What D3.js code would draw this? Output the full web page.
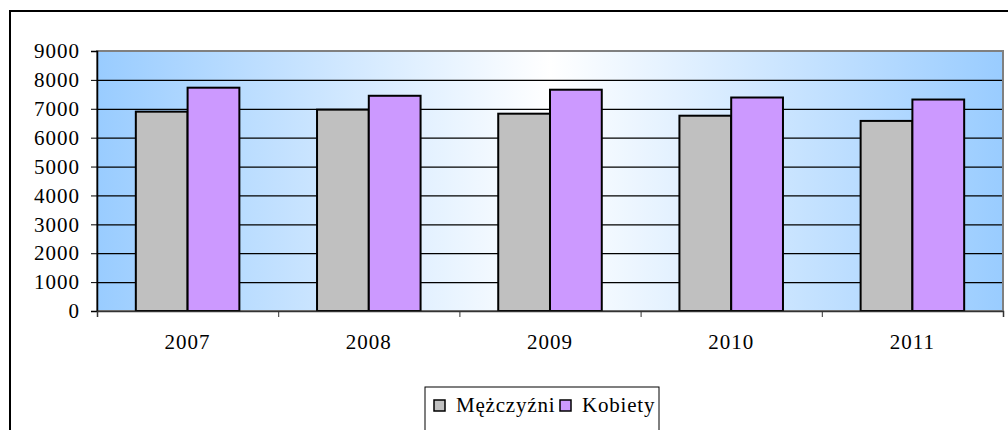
<!DOCTYPE html>
<html lang="pl">

<head>
  <meta charset="UTF-8" />
  <title>d3</title>
  <script src="https://cdn.jsdelivr.net/npm/d3@7/dist/d3.min.js"></script>
  <style>
    body { margin: 0; background: #fff; }
    svg { display: block; }
  </style>
</head>

<body>
  <svg id="svg"></svg>
</body>

<script>
  const years = ["2007", "2008", "2009", "2010", "2011"];
  const seriesNames = ["Mężczyźni", "Kobiety"];
  const men = [6900, 6970, 6830, 6760, 6580];
  const women = [7730, 7450, 7660, 7390, 7320];
  const yTicks = [0, 1000, 2000, 3000, 4000, 5000, 6000, 7000, 8000, 9000];

  const colors = { "Mężczyźni": "#c0c0c0", "Kobiety": "#cc99ff" };
  const font = "'Liberation Serif', 'Times New Roman', serif";

  const width = 1008;
  const height = 430;
  const plot = { left: 97, right: 1003, top: 51, bottom: 311 };

  const svg = d3.select("#svg").attr("width", width).attr("height", height);

  // outer chart frame (runs off the right/bottom edge)
  svg.append("rect")
    .attr("x", 10).attr("y", 11)
    .attr("width", 1010).attr("height", 440)
    .attr("fill", "#fff")
    .attr("stroke", "#000")
    .attr("stroke-width", 2);

  const grad = svg.append("defs").append("linearGradient")
    .attr("id", "bg").attr("x1", "0").attr("x2", "1").attr("y1", "0").attr("y2", "0");
  grad.append("stop").attr("offset", "0").attr("stop-color", "#99ccff");
  grad.append("stop").attr("offset", "0.5").attr("stop-color", "#ffffff");
  grad.append("stop").attr("offset", "1").attr("stop-color", "#99ccff");

  const x0 = d3.scaleBand().domain(years).range([plot.left, plot.right]);
  const x1 = d3.scaleBand().domain(seriesNames).range([0, x0.bandwidth()]).paddingOuter(0.75);
  const y = d3.scaleLinear().domain([0, 9000]).range([plot.bottom, plot.top]);

  svg.append("rect")
    .attr("x", plot.left).attr("y", plot.top)
    .attr("width", plot.right - plot.left).attr("height", plot.bottom - plot.top)
    .attr("fill", "url(#bg)");

  // gridlines
  const grid = svg.append("g")
    .attr("transform", `translate(${plot.left},0)`)
    .call(d3.axisLeft(y).tickValues(yTicks).tickSize(-(plot.right - plot.left)).tickFormat(""));
  grid.selectAll(".domain").remove();
  grid.selectAll("line").attr("stroke", "#000").attr("stroke-width", 1.2);

  // plot border
  svg.append("rect")
    .attr("x", plot.left).attr("y", plot.top)
    .attr("width", plot.right - plot.left).attr("height", plot.bottom - plot.top)
    .attr("fill", "none")
    .attr("stroke", "#808080")
    .attr("stroke-width", 2);

  const data = years.map((yr, i) => ({ year: yr, values: [
    { key: "Mężczyźni", value: men[i] },
    { key: "Kobiety", value: women[i] }
  ] }));

  svg.append("g")
    .selectAll("g")
    .data(data)
    .join("g")
    .attr("transform", d => `translate(${x0(d.year)},0)`)
    .selectAll("rect")
    .data(d => d.values)
    .join("rect")
    .attr("x", d => x1(d.key))
    .attr("y", d => y(d.value))
    .attr("width", x1.bandwidth())
    .attr("height", d => y(0) - y(d.value))
    .attr("fill", d => colors[d.key])
    .attr("stroke", "#000")
    .attr("stroke-width", 2);

  // y axis
  const yAxisGroup = svg.append("g")
    .attr("transform", `translate(${plot.left},0)`)
    .call(d3.axisLeft(y).tickValues(yTicks).tickFormat(d3.format("d")).tickSize(6).tickPadding(11));
  yAxisGroup.select(".domain").attr("stroke", "#000").attr("stroke-width", 1.5);
  yAxisGroup.selectAll("line").attr("stroke", "#000");
  yAxisGroup.selectAll("text")
    .attr("font-family", font)
    .attr("font-size", 21)
    .attr("letter-spacing", "1px")
    .attr("fill", "#000");

  // x axis: ticks at category boundaries
  const xb = d3.scaleLinear().domain([0, years.length]).range([plot.left, plot.right]);
  const xTickGroup = svg.append("g")
    .attr("transform", `translate(0,${plot.bottom})`)
    .call(d3.axisBottom(xb).tickValues(d3.range(years.length + 1)).tickSize(6).tickFormat(""));
  xTickGroup.select(".domain").attr("stroke", "#333").attr("stroke-width", 1.5);
  xTickGroup.selectAll("line").attr("stroke", "#333");

  const xAxisGroup = svg.append("g")
    .attr("transform", `translate(0,${plot.bottom})`)
    .call(d3.axisBottom(x0).tickSize(0).tickPadding(23));
  xAxisGroup.select(".domain").remove();
  xAxisGroup.selectAll("text")
    .attr("font-family", font)
    .attr("font-size", 21)
    .attr("letter-spacing", "1px")
    .attr("fill", "#000");

  // legend
  const legend = svg.append("g");
  legend.append("rect")
    .attr("x", 425).attr("y", 387)
    .attr("width", 234).attr("height", 44)
    .attr("fill", "#fff")
    .attr("stroke", "#000")
    .attr("stroke-width", 1);

  const legendX = [434, 560];
  seriesNames.forEach((name, i) => {
    legend.append("rect")
      .attr("x", legendX[i]).attr("y", 400)
      .attr("width", 11).attr("height", 11)
      .attr("fill", colors[name])
      .attr("stroke", "#000")
      .attr("stroke-width", 1.5);
    legend.append("text")
      .attr("x", legendX[i] + 22).attr("y", 412)
      .attr("font-family", font)
      .attr("font-size", 21)
      .attr("letter-spacing", "0.8px")
      .text(name);
  });
</script>

</html>
